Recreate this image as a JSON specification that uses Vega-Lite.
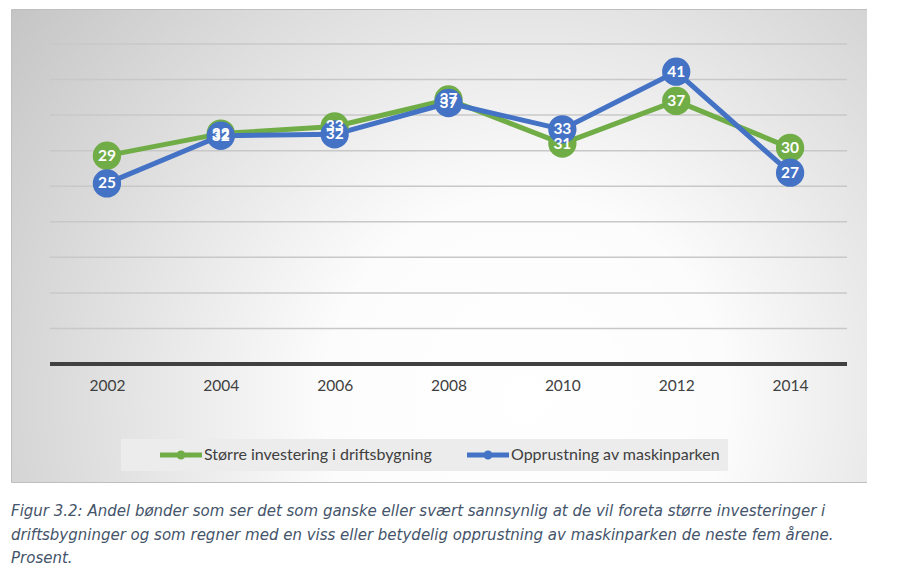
{
  "$schema": "https://vega.github.io/schema/vega-lite/v6.json",
  "width": 856,
  "height": 473,
  "padding": {"left": 11, "top": 9, "right": 0, "bottom": 0},
  "background": "#ffffff",
  "config": {
    "view": {
      "stroke": "#bfbfbf",
      "strokeWidth": 1,
      "fill": {
        "gradient": "radial",
        "x1": 0.6, "y1": 0.68, "r1": 0,
        "x2": 0.6, "y2": 0.68, "r2": 0.78,
        "stops": [
          {"offset": 0, "color": "#ffffff"},
          {"offset": 0.3, "color": "#fcfcfc"},
          {"offset": 1, "color": "#c2c2c2"}
        ]
      }
    },
    "font": "Lato"
  },
  "title": {
    "text": [
      "Figur 3.2: Andel bønder som ser det som ganske eller svært sannsynlig at de vil foreta større investeringer i",
      "driftsbygninger og som regner med en viss eller betydelig opprustning av maskinparken de neste fem årene.",
      "Prosent."
    ],
    "orient": "bottom",
    "anchor": "start",
    "font": "DejaVu Sans",
    "fontStyle": "italic",
    "fontWeight": "normal",
    "fontSize": 15,
    "lineHeight": 23.5,
    "color": "#44546A",
    "offset": 22
  },
  "layer": [
    {
      "data": {"values": [
        {"tick": 5}, {"tick": 10}, {"tick": 15}, {"tick": 20}, {"tick": 25},
        {"tick": 30}, {"tick": 35}, {"tick": 40}, {"tick": 45}
      ]},
      "mark": {"type": "rule", "color": "#c8c8c8", "strokeWidth": 1.5},
      "encoding": {
        "y": {"field": "tick", "type": "quantitative", "scale": {"domain": [-16.59, 49.92], "nice": false, "zero": false}, "axis": null},
        "x": {"datum": 2001, "type": "quantitative", "scale": {"domain": [2000.315, 2015.351], "nice": false, "zero": false}},
        "x2": {"datum": 2015}
      }
    },
    {
      "data": {"values": [{"tick": 0}]},
      "mark": {"type": "rule", "color": "#404040", "strokeWidth": 4},
      "encoding": {
        "y": {"field": "tick", "type": "quantitative"},
        "x": {"datum": 2001, "type": "quantitative"},
        "x2": {"datum": 2015}
      }
    },
    {
      "data": {"values": [
        {"year": 2002, "serie": "Større investering i driftsbygning", "value": 29.3},
        {"year": 2004, "serie": "Større investering i driftsbygning", "value": 32.4},
        {"year": 2006, "serie": "Større investering i driftsbygning", "value": 33.4},
        {"year": 2008, "serie": "Større investering i driftsbygning", "value": 37.2},
        {"year": 2010, "serie": "Større investering i driftsbygning", "value": 31.0},
        {"year": 2012, "serie": "Større investering i driftsbygning", "value": 37.0},
        {"year": 2014, "serie": "Større investering i driftsbygning", "value": 30.4},
        {"year": 2002, "serie": "Opprustning av maskinparken", "value": 25.4},
        {"year": 2004, "serie": "Opprustning av maskinparken", "value": 32.1},
        {"year": 2006, "serie": "Opprustning av maskinparken", "value": 32.3},
        {"year": 2008, "serie": "Opprustning av maskinparken", "value": 36.7},
        {"year": 2010, "serie": "Opprustning av maskinparken", "value": 33.0},
        {"year": 2012, "serie": "Opprustning av maskinparken", "value": 41.1},
        {"year": 2014, "serie": "Opprustning av maskinparken", "value": 26.9}
      ]},
      "encoding": {
        "x": {
          "field": "year",
          "type": "quantitative",
          "axis": {
            "values": [2002, 2004, 2006, 2008, 2010, 2012, 2014],
            "format": "d",
            "title": null,
            "domain": false,
            "ticks": false,
            "grid": false,
            "offset": -118,
            "labelPadding": 14,
            "labelFont": "Lato",
            "labelFontSize": 15.5,
            "labelColor": "#404040"
          }
        },
        "y": {"field": "value", "type": "quantitative"},
        "color": {
          "field": "serie",
          "type": "nominal",
          "scale": {
            "domain": ["Større investering i driftsbygning", "Opprustning av maskinparken"],
            "range": ["#70AD47", "#4472C4"]
          },
          "legend": {
            "title": null,
            "orient": "none",
            "legendX": 110,
            "legendY": 430,
            "direction": "horizontal",
            "columns": 2,
            "gridAlign": "all",
            "fillColor": "#ececec",
            "padding": 8,
            "symbolType": "M-2.625,-0.3125L2.625,-0.3125L2.625,0.3125L-2.625,0.3125Z M0.5625,0A0.5625,0.5625 0 1,1 -0.5625,0A0.5625,0.5625 0 1,1 0.5625,0Z",
            "symbolSize": 256,
            "symbolOpacity": 1,
            "symbolStrokeWidth": 0,
            "symbolOffset": 44,
            "labelFont": "Lato",
            "labelFontSize": 16,
            "labelColor": "#404040",
            "labelOffset": 15,
            "columnPadding": 4,
            "labelLimit": 400
          }
        }
      },
      "layer": [
        {"mark": {"type": "line", "strokeWidth": 5, "strokeJoin": "round"}},
        {"mark": {"type": "circle", "size": 800, "opacity": 1}},
        {
          "mark": {"type": "text", "font": "Lato", "fontWeight": "bold", "fontSize": 15.5, "align": "center", "baseline": "middle"},
          "encoding": {
            "text": {"field": "value", "type": "quantitative", "format": ".0f"},
            "color": {"value": "#ffffff"}
          }
        }
      ]
    }
  ]
}
